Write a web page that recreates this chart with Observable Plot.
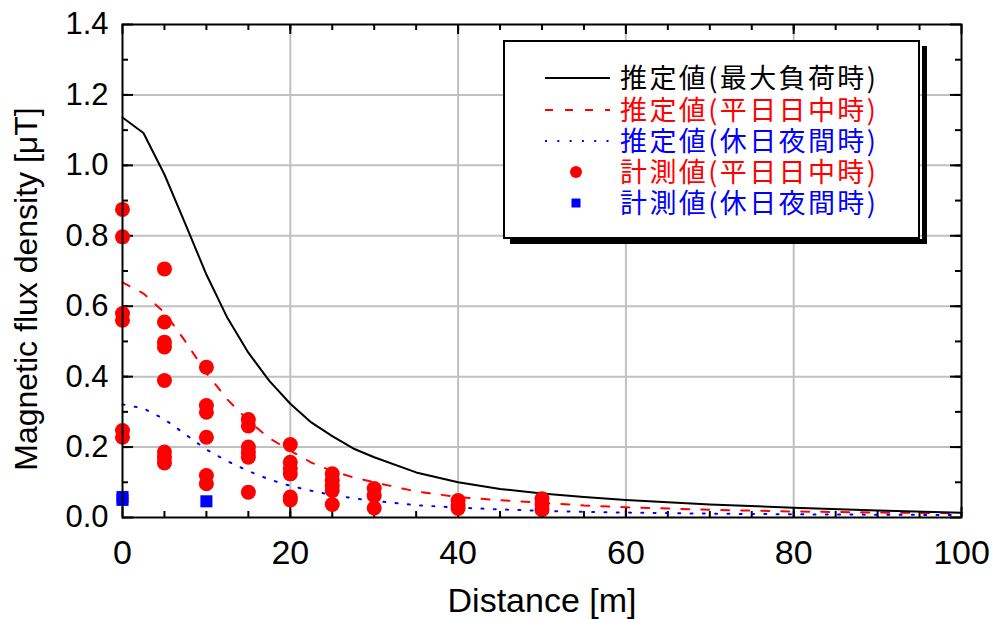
<!DOCTYPE html>
<html>
<head>
<meta charset="utf-8">
<script src="https://cdn.jsdelivr.net/npm/d3@7"></script>
<script src="https://cdn.jsdelivr.net/npm/@observablehq/plot@0.6"></script>
<style>
  html, body { margin: 0; padding: 0; background: #fff; }
  #wrap { position: relative; width: 994px; height: 619px; }
  #legend { position: absolute; left: 0; top: 0; pointer-events: none; }
</style>
</head>
<body>
<div id="wrap"></div>
<script>
// ---- data ----
const distance = [0, 2.5, 5, 7.5, 10, 12.5, 15, 17.5, 20, 22.5, 25, 27.5, 30, 35, 40, 45, 50, 55, 60, 70, 80, 90, 100];
const estMax   = [1.136, 1.092, 0.974, 0.833, 0.69, 0.567, 0.468, 0.388, 0.323, 0.27, 0.231, 0.196, 0.171, 0.128, 0.1, 0.081, 0.068, 0.058, 0.05, 0.037, 0.028, 0.02, 0.0135];
const estDay   = [0.668, 0.636, 0.582, 0.5, 0.41, 0.335, 0.275, 0.225, 0.19, 0.156, 0.132, 0.114, 0.1, 0.074, 0.058, 0.049, 0.042, 0.034, 0.029, 0.022, 0.017, 0.014, 0.012];
const estNight = [0.321, 0.31, 0.279, 0.236, 0.193, 0.16, 0.132, 0.108, 0.09, 0.076, 0.064, 0.055, 0.047, 0.035, 0.028, 0.023, 0.019, 0.016, 0.014, 0.011, 0.009, 0.008, 0.007];

const measDayX = [0,0,0,0,0,0, 5,5,5,5,5,5,5,5, 10,10,10,10,10,10, 15,15,15,15,15,15, 20,20,20,20,20,20, 25,25,25,25,25, 30,30,30, 40,40,40, 50,50,50];
const measDayY = [0.875,0.797,0.579,0.56,0.247,0.228,
                  0.706,0.555,0.498,0.484,0.389,0.186,0.17,0.155,
                  0.427,0.318,0.299,0.228,0.119,0.096,
                  0.278,0.26,0.2,0.185,0.171,0.072,
                  0.207,0.157,0.14,0.124,0.058,0.05,
                  0.124,0.105,0.09,0.077,0.037,
                  0.082,0.062,0.027,
                  0.048,0.035,0.026,
                  0.053,0.038,0.022];
const measNightX = [0, 0, 10];
const measNightY = [0.058, 0.05, 0.046];

const xTicks = [0, 20, 40, 60, 80, 100];
const xMinor = d3.range(5, 100, 5);
const yTicks = [0, 0.2, 0.4, 0.6, 0.8, 1.0, 1.2, 1.4];
const yMinor = d3.range(1, 14).map(d => d / 10);

const legendLabels = ["推定値(最大負荷時)", "推定値(平日日中時)", "推定値(休日夜間時)", "計測値(平日日中時)", "計測値(休日夜間時)"];
const legendColors = ["#000000", "#ff0000", "#0000ff", "#ff0000", "#0000ff"];

// ---- tables ----
const curves = distance.map((d, i) => ({d, max: estMax[i], day: estDay[i], night: estNight[i]}));
const dayPts = measDayX.map((d, i) => ({d, v: measDayY[i]}));
const nightPts = measNightX.map((d, i) => ({d, v: measNightY[i]}));

const W = 994, H = 619, mL = 122, mR = 33, mT = 24, mB = 102;
const iW = W - mL - mR, iH = H - mT - mB;
const gridColor = "#c0c0c0";

const chart = Plot.plot({
  width: W, height: H,
  marginLeft: mL, marginRight: mR, marginTop: mT, marginBottom: mB,
  style: {background: "#fff", overflow: "visible"},
  x: {domain: [0, 100]},
  y: {domain: [0, 1.4]},
  marks: [
    Plot.gridX(xTicks.slice(1, -1), {stroke: gridColor, strokeOpacity: 1, strokeWidth: 2}),
    Plot.gridY(yTicks.slice(1, -1), {stroke: gridColor, strokeOpacity: 1, strokeWidth: 2}),
    // inward ticks
    Plot.ruleX(xMinor, {x: d => d, insetTop: iH - 6, stroke: "black", strokeWidth: 2}),
    Plot.ruleX(xMinor, {x: d => d, insetBottom: iH - 6, stroke: "black", strokeWidth: 2}),
    Plot.ruleX(xTicks, {x: d => d, insetTop: iH - 10, stroke: "black", strokeWidth: 2}),
    Plot.ruleX(xTicks, {x: d => d, insetBottom: iH - 10, stroke: "black", strokeWidth: 2}),
    Plot.ruleY(yMinor, {y: d => d, insetRight: iW - 6, stroke: "black", strokeWidth: 2}),
    Plot.ruleY(yMinor, {y: d => d, insetLeft: iW - 6, stroke: "black", strokeWidth: 2}),
    Plot.ruleY(yTicks, {y: d => d, insetRight: iW - 11, stroke: "black", strokeWidth: 2}),
    Plot.ruleY(yTicks, {y: d => d, insetLeft: iW - 11, stroke: "black", strokeWidth: 2}),
    // curves
    Plot.line(curves, {x: "d", y: "night", stroke: "#0000ff", strokeWidth: 2, strokeDasharray: "2,10.3", curve: "linear"}),
    Plot.line(curves, {x: "d", y: "day", stroke: "#ff0000", strokeWidth: 2, strokeDasharray: "8,12", curve: "linear"}),
    Plot.line(curves, {x: "d", y: "max", stroke: "#000000", strokeWidth: 2, curve: "linear"}),
    // measured
    Plot.dot(dayPts, {x: "d", y: "v", r: 7.5, fill: "#ff0000", stroke: "none"}),
    Plot.dot(nightPts, {x: "d", y: "v", r: 6.8, symbol: "square", fill: "#0000ff", stroke: "none"}),
    Plot.frame({stroke: "black", strokeWidth: 2}),
    Plot.axisX({ticks: xTicks, tickSize: 0, tickPadding: 22, fontSize: 34, fontFamily: "Liberation Sans", fill: "black", label: null}),
    Plot.axisY({ticks: yTicks, tickSize: 0, tickPadding: 14, tickFormat: d3.format(".1f"), fontSize: 31, fontFamily: "Liberation Sans", fill: "black", label: null}),
    Plot.text(["Distance [m]"], {frameAnchor: "bottom", dy: 84, lineAnchor: "middle", fontSize: 34, fontFamily: "Liberation Sans", fill: "black", textAnchor: "middle"}),
    Plot.text(["Magnetic flux density [μT]"], {frameAnchor: "left", dx: -96, dy: 18, rotate: -90, lineAnchor: "middle", fontSize: 32, fontFamily: "Liberation Sans", fill: "black", textAnchor: "middle"})
  ]
});

const wrap = document.getElementById("wrap");
wrap.appendChild(chart);

// ---- legend overlay ----
const lg = d3.select(wrap).append("svg").attr("id", "legend").attr("width", W).attr("height", H);
const bx = 504, by = 41, bw = 415, bh = 197;
lg.append("rect").attr("x", bx + bw + 3).attr("y", by + 5).attr("width", 5).attr("height", bh + 1).attr("fill", "black");
lg.append("rect").attr("x", bx + 6).attr("y", by + bh + 1).attr("width", bw + 2).attr("height", 5).attr("fill", "black");
lg.append("rect").attr("x", bx).attr("y", by).attr("width", bw).attr("height", bh)
  .attr("fill", "white").attr("stroke", "black").attr("stroke-width", 2);
const rowY = [78, 110, 141, 172, 203];
const dashes = [null, "8,12", "2,10.3"];
legendLabels.forEach((t, i) => {
  const y = rowY[i];
  if (i < 3) {
    const l = lg.append("line").attr("x1", 545).attr("x2", 610).attr("y1", y).attr("y2", y)
      .attr("stroke", legendColors[i]).attr("stroke-width", 2);
    if (dashes[i]) l.attr("stroke-dasharray", dashes[i]);
  } else if (i === 3) {
    lg.append("circle").attr("cx", 576).attr("cy", y).attr("r", 6).attr("fill", legendColors[i]);
  } else {
    lg.append("rect").attr("x", 571.5).attr("y", y - 4.5).attr("width", 9).attr("height", 9).attr("fill", legendColors[i]);
  }
  lg.append("text").attr("x", 620).attr("y", y).attr("dy", "0.36em")
    .attr("font-family", "Noto Sans CJK JP").attr("font-size", 27)
    .attr("letter-spacing", "2.4px")
    .attr("fill", legendColors[i]).text(t);
});
</script>
</body>
</html>
